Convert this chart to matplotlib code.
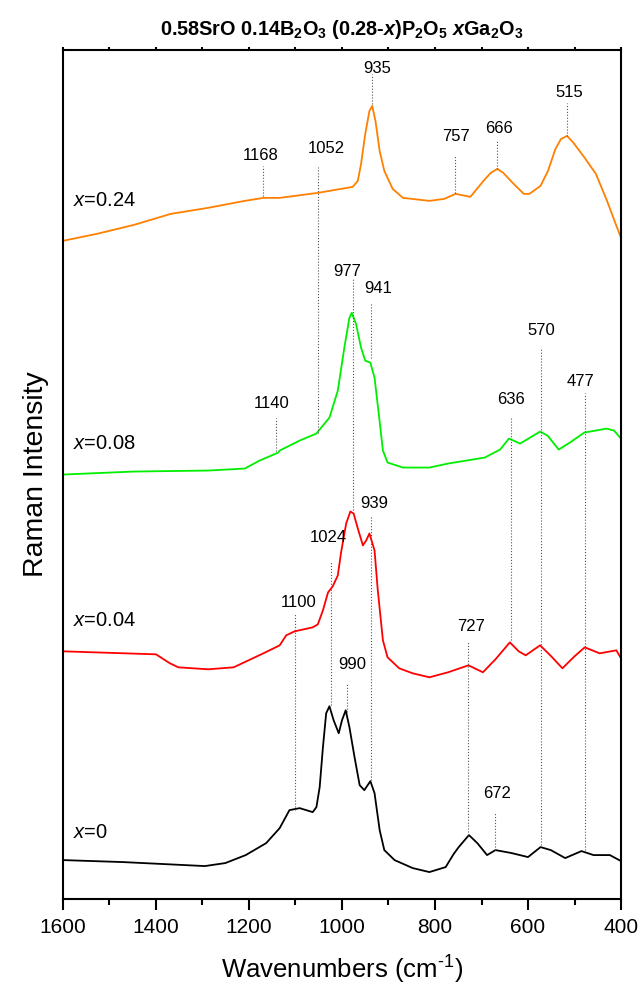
import matplotlib
matplotlib.use("Agg")
import matplotlib.pyplot as plt
from matplotlib.ticker import MultipleLocator

plt.rcParams["font.family"] = ["Liberation Sans", "DejaVu Sans"]
plt.rcParams["mathtext.fontset"] = "custom"
plt.rcParams["mathtext.rm"] = "Liberation Sans"
plt.rcParams["mathtext.it"] = "Liberation Sans:italic"
plt.rcParams["mathtext.bf"] = "Liberation Sans:bold"
plt.rcParams["mathtext.bfit"] = "Liberation Sans:bold:italic"
plt.rcParams["mathtext.default"] = "regular"

# spectra (intensity includes the stacking offset)
wn_024 = [1600, 1527, 1447, 1368, 1288, 1209, 1169, 1134, 1052, 977, 966, 959, 950, 941, 935,
          928, 919, 909, 891, 869, 812, 780, 756, 724, 701, 692, 680, 666, 653, 633, 609,
          597, 573, 557, 541, 529, 516, 502, 478, 454, 430, 414, 400]
int_024 = [659, 666, 675, 686, 692, 699, 702, 702, 707, 713, 719, 736, 766, 789, 794,
           779, 749, 729, 711, 702, 699, 701, 706, 703, 716, 721, 727, 731, 727, 717, 706,
           706, 714, 729, 751, 761, 764, 757, 742, 726, 699, 679, 662]

wn_008 = [1600, 1447, 1288, 1209, 1177, 1137, 1134, 1091, 1055, 1027, 1009, 995, 984, 979,
          970, 959, 950, 939, 930, 921, 912, 902, 869, 812, 772, 693, 660, 641, 617, 574,
          558, 534, 510, 479, 431, 415, 400]
int_008 = [425, 428, 429, 431, 439, 447, 449, 459, 466, 482, 509, 552, 582, 587,
           576, 552, 539, 537, 522, 486, 449, 437, 432, 432, 436, 442, 450, 461, 456, 468,
           464, 450, 457, 467, 471, 469, 461]

wn_004 = [1600, 1400, 1390, 1370, 1352, 1288, 1233, 1169, 1134, 1120, 1102, 1063, 1052, 1041,
          1030, 1020, 1009, 1002, 991, 982, 975, 966, 955, 948, 941, 930, 923, 912, 902, 877,
          848, 812, 772, 728, 697, 670, 639, 620, 605, 574, 550, 526, 500, 478, 446, 410, 400]
int_004 = [248, 245, 242, 236, 232, 230, 232, 246, 254, 264, 268, 272, 275, 289,
           307, 313, 324, 347, 376, 388, 386, 371, 354, 359, 366, 349, 309, 259, 242, 231,
           226, 222, 227, 234, 227, 240, 257, 248, 244, 254, 243, 231, 243, 252, 246, 249, 241]

wn_000 = [1600, 1471, 1295, 1251, 1207, 1163, 1134, 1113, 1091, 1063, 1055, 1048, 1041, 1034,
          1027, 1018, 1007, 1000, 992, 984, 973, 962, 952, 939, 930, 919, 909, 887, 848, 812,
          777, 760, 749, 727, 709, 688, 670, 635, 600, 573, 551, 520, 485, 459, 424, 400]
int_000 = [39, 37, 33, 36, 44, 56, 71, 89, 91, 87, 92, 112, 152, 186,
           193, 179, 166, 179, 189, 172, 142, 114, 109, 118, 106, 69, 49, 39, 31, 27,
           32, 45, 52, 64, 56, 44, 49, 46, 42, 52, 49, 41, 48, 44, 44, 38]

series_labels = ["$\\mathit{x}$=0.24", "$\\mathit{x}$=0.08", "$\\mathit{x}$=0.04", "$\\mathit{x}$=0"]
series_label_y = [699, 456, 279, 67]
series_colors = ["#ff8000", "#00ee00", "#ff0000", "#000000"]

# peak annotations: label, line position, text position, text height, line top, line bottom
peak_text = ["1168", "1052", "935", "757", "666", "515", "977", "941", "1140", "636", "570",
             "477", "939", "1024", "1100", "727", "990", "672"]
peak_wn = [1170, 1052, 935, 757, 666, 516, 977, 938, 1141, 637, 572, 478, 938, 1023, 1101,
           728, 990, 672]
peak_text_wn = [1175, 1033, 925, 754, 662, 512, 989, 923, 1152, 637, 571, 487, 931, 1030,
                1094, 723, 977, 666]
peak_text_y = [744, 751, 832, 763, 771, 807, 628, 611, 496, 500, 569, 518, 396, 362, 297,
               273, 235, 106]
peak_top = [734, 733, 826, 744, 759, 797, 621, 597, 482, 483, 551, 507, 383, 338, 285,
            257, 215, 86]
peak_bottom = [704, 467, 796, 707, 731, 764, 389, 542, 449, 259, 54, 49, 119, 194, 89,
               64, 187, 49]

fig = plt.figure(figsize=(6.42, 9.91), dpi=100)
ax = fig.add_axes([0.0981, 0.0928, 0.8692, 0.8567])

for wn, inten, col in zip([wn_024, wn_008, wn_004, wn_000],
                          [int_024, int_008, int_004, int_000], series_colors):
    ax.plot(wn, inten, color=col, lw=1.3)

for lab, ly in zip(series_labels, series_label_y):
    ax.text(1578, ly, lab, fontsize=14.5, ha="left", va="center")

for t, w, tw, ty, top, bot in zip(peak_text, peak_wn, peak_text_wn, peak_text_y,
                                  peak_top, peak_bottom):
    ax.plot([w, w], [bot, top], ls=":", color="#555555", lw=0.8)
    ax.text(tw, ty, t, fontsize=12, ha="center", va="center")

ax.set_xlim(1600, 400)
ax.set_ylim(0, 850)
ax.set_yticks([])
ax.xaxis.set_major_locator(MultipleLocator(200))
ax.xaxis.set_minor_locator(MultipleLocator(100))
ax.tick_params(axis="x", which="major", direction="out", length=8, width=1.5,
               labelsize=15, pad=6)
ax.tick_params(axis="x", which="minor", direction="out", length=4.5, width=1.5)
ax.tick_params(axis="x", which="both", top=True)
ax.xaxis.set_tick_params(which="both", direction="out")
for t in ax.xaxis.get_major_ticks() + ax.xaxis.get_minor_ticks():
    t.tick2line.set_markersize(2)
for s in ax.spines.values():
    s.set_linewidth(1.5)

ax.set_xlabel("Wavenumbers (cm$^{\\text{-1}}$)", fontsize=18.5, labelpad=12)
ax.set_ylabel("Raman Intensity", fontsize=20.5, labelpad=10)
ax.set_title("0.58SrO 0.14B$_2$O$_3$ (0.28-$\\mathbfit{x}$)P$_2$O$_5$ $\\mathbfit{x}$Ga$_2$O$_3$",
             fontsize=14.3, fontweight="bold", pad=11)

fig.savefig("out.png", dpi=100)
